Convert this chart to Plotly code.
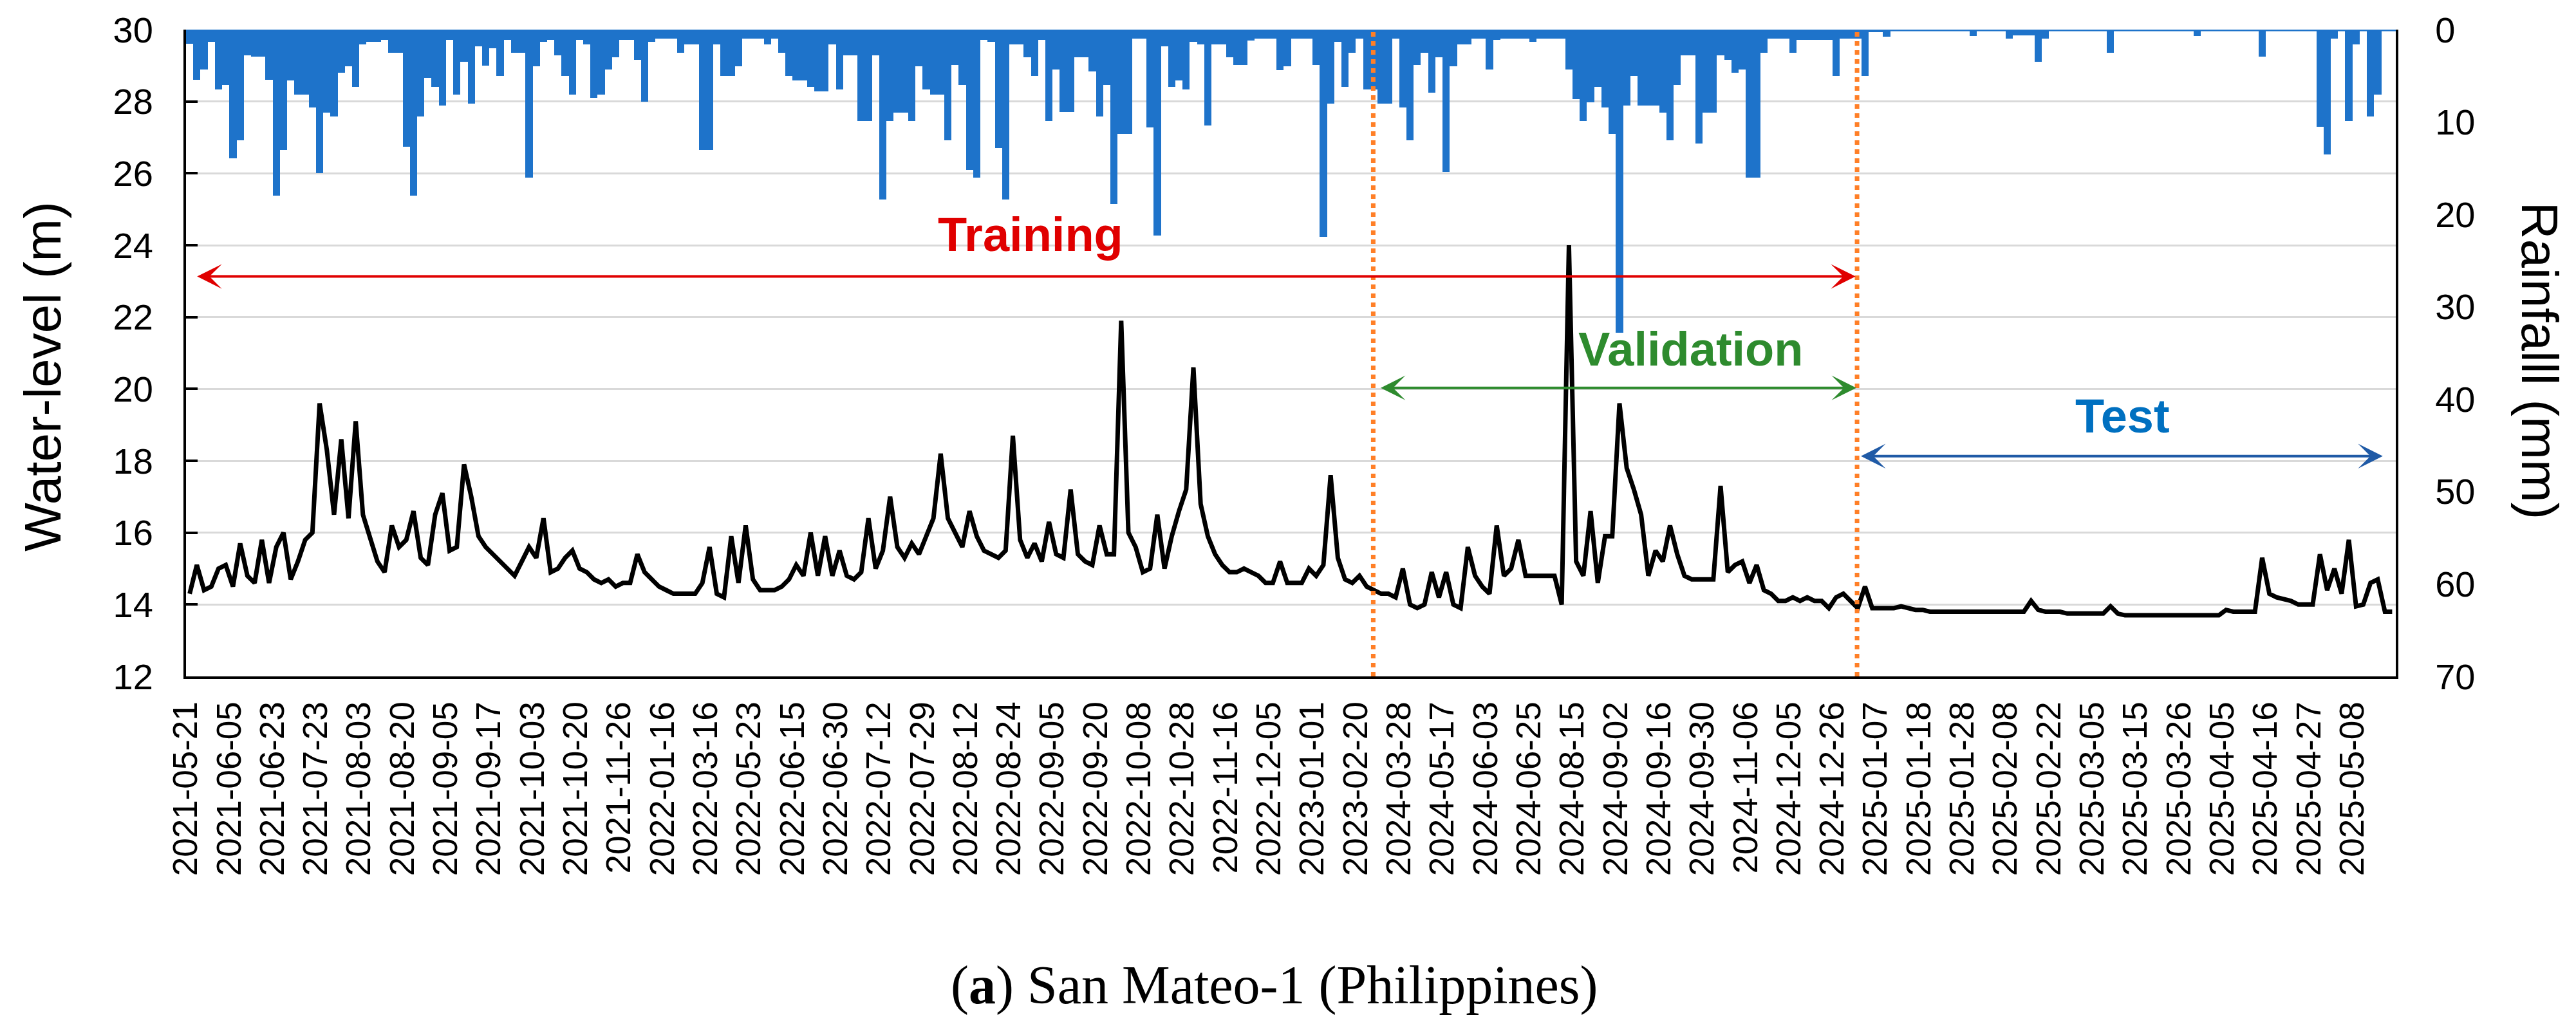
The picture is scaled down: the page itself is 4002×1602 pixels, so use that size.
import plotly.graph_objects as go

# ---------------- data ----------------
tick_labels = [
    "2021-05-21", "2021-06-05", "2021-06-23", "2021-07-23", "2021-08-03", "2021-08-20",
    "2021-09-05", "2021-09-17", "2021-10-03", "2021-10-20", "2021-11-26", "2022-01-16",
    "2022-03-16", "2022-05-23", "2022-06-15", "2022-06-30", "2022-07-12", "2022-07-29",
    "2022-08-12", "2022-08-24", "2022-09-05", "2022-09-20", "2022-10-08", "2022-10-28",
    "2022-11-16", "2022-12-05", "2023-01-01", "2023-02-20", "2024-03-28", "2024-05-17",
    "2024-06-03", "2024-06-25", "2024-08-15", "2024-09-02", "2024-09-16", "2024-09-30",
    "2024-11-06", "2024-12-05", "2024-12-26", "2025-01-07", "2025-01-18", "2025-01-28",
    "2025-02-08", "2025-02-22", "2025-03-05", "2025-03-15", "2025-03-26", "2025-04-05",
    "2025-04-16", "2025-04-27", "2025-05-08",
]

# water level (m), 6 readings between consecutive tick labels
water_level = [
    14.3, 15.1, 14.4, 14.5, 15.0, 15.1,
    14.5, 15.7, 14.8, 14.6, 15.8, 14.6,
    15.6, 16.0, 14.7, 15.2, 15.8, 16.0,
    19.6, 18.3, 16.5, 18.6, 16.4, 19.1,
    16.5, 15.8, 15.2, 14.9, 16.2, 15.6,
    15.8, 16.6, 15.3, 15.1, 16.5, 17.1,
    15.5, 15.6, 17.9, 17.0, 15.9, 15.6,
    15.4, 15.2, 15.0, 14.8, 15.2, 15.6,
    15.3, 16.4, 14.9, 15.0, 15.3, 15.5,
    15.0, 14.9, 14.7, 14.6, 14.7, 14.5,
    14.6, 14.6, 15.4, 14.9, 14.7, 14.5,
    14.4, 14.3, 14.3, 14.3, 14.3, 14.6,
    15.6, 14.3, 14.2, 15.9, 14.6, 16.2,
    14.7, 14.4, 14.4, 14.4, 14.5, 14.7,
    15.1, 14.8, 16.0, 14.8, 15.9, 14.8,
    15.5, 14.8, 14.7, 14.9, 16.4, 15.0,
    15.5, 17.0, 15.6, 15.3, 15.7, 15.4,
    15.9, 16.4, 18.2, 16.4, 16.0, 15.6,
    16.6, 15.9, 15.5, 15.4, 15.3, 15.5,
    18.7, 15.8, 15.3, 15.7, 15.2, 16.3,
    15.4, 15.3, 17.2, 15.4, 15.2, 15.1,
    16.2, 15.4, 15.4, 21.9, 16.0, 15.6,
    14.9, 15.0, 16.5, 15.0, 15.9, 16.6,
    17.2, 20.6, 16.8, 15.9, 15.4, 15.1,
    14.9, 14.9, 15.0, 14.9, 14.8, 14.6,
    14.6, 15.2, 14.6, 14.6, 14.6, 15.0,
    14.8, 15.1, 17.6, 15.3, 14.7, 14.6,
    14.8, 14.5, 14.4, 14.3, 14.3, 14.2,
    15.0, 14.0, 13.9, 14.0, 14.9, 14.2,
    14.9, 14.0, 13.9, 15.6, 14.8, 14.5,
    14.3, 16.2, 14.8, 15.0, 15.8, 14.8,
    14.8, 14.8, 14.8, 14.8, 14.0, 24.0,
    15.2, 14.8, 16.6, 14.6, 15.9, 15.9,
    19.6, 17.8, 17.2, 16.5, 14.8, 15.5,
    15.2, 16.2, 15.4, 14.8, 14.7, 14.7,
    14.7, 14.7, 17.3, 14.9, 15.1, 15.2,
    14.6, 15.1, 14.4, 14.3, 14.1, 14.1,
    14.2, 14.1, 14.2, 14.1, 14.1, 13.9,
    14.2, 14.3, 14.1, 13.9, 14.5, 13.9,
    13.9, 13.9, 13.9, 13.95, 13.9, 13.85,
    13.85, 13.8, 13.8, 13.8, 13.8, 13.8,
    13.8, 13.8, 13.8, 13.8, 13.8, 13.8,
    13.8, 13.8, 13.8, 14.1, 13.85, 13.8,
    13.8, 13.8, 13.75, 13.75, 13.75, 13.75,
    13.75, 13.75, 13.95, 13.75, 13.7, 13.7,
    13.7, 13.72, 13.7, 13.7, 13.72, 13.7,
    13.7, 13.7, 13.72, 13.7, 13.7, 13.7,
    13.85, 13.8, 13.8, 13.8, 13.8, 15.3,
    14.3, 14.2, 14.15, 14.1, 14.0, 14.0,
    14.0, 15.4, 14.4, 15.0, 14.3, 15.8,
    13.95, 14.0, 14.6, 14.7, 13.8, 13.8,
]

# rainfall (mm), same sampling
rainfall = [
    1.5, 5.4, 4.3, 1.3, 6.5, 6.0,
    13.9, 12.0, 2.8, 2.9, 2.9, 5.4,
    18.0, 13.0, 5.5, 7.0, 7.0, 8.4,
    15.5, 9.0, 9.4, 4.7, 4.0, 6.2,
    1.6, 1.3, 1.3, 1.1, 2.5, 2.5,
    12.7, 18.0, 9.4, 5.2, 6.2, 8.2,
    1.1, 7.0, 3.5, 8.0, 1.8, 3.9,
    2.0, 5.0, 1.1, 2.5, 2.5, 16.0,
    4.0, 1.3, 1.1, 2.8, 5.0, 7.0,
    1.1, 1.6, 7.4, 7.0, 4.3, 3.0,
    1.1, 1.1, 3.3, 7.8, 1.3, 1.0,
    1.0, 1.0, 2.5, 1.6, 1.6, 13.0,
    13.0, 1.6, 5.0, 5.0, 4.0, 1.0,
    1.0, 1.0, 1.6, 1.0, 2.5, 5.0,
    5.5, 5.5, 6.2, 6.7, 6.7, 1.6,
    6.5, 2.8, 2.8, 9.9, 9.9, 2.8,
    18.4, 9.9, 9.0, 9.0, 9.9, 4.0,
    6.5, 7.0, 7.0, 12.0, 3.8, 6.0,
    15.2, 16.0, 1.1, 1.3, 12.8, 18.4,
    1.6, 1.6, 3.0, 5.0, 1.1, 9.9,
    4.3, 8.9, 8.9, 3.0, 3.0, 4.5,
    9.4, 6.0, 18.9, 11.3, 11.3, 1.0,
    1.0, 10.6, 22.3, 1.8, 6.2, 5.5,
    6.5, 1.3, 1.6, 10.4, 1.6, 1.6,
    3.0, 3.8, 3.8, 1.2, 1.0, 1.0,
    1.0, 4.4, 4.0, 1.0, 1.0, 1.0,
    3.8, 22.4, 8.0, 1.3, 6.2, 2.5,
    1.0, 6.5, 6.5, 8.0, 8.0, 1.0,
    8.4, 12.0, 3.8, 2.5, 6.8, 3.0,
    15.4, 4.0, 1.6, 1.6, 1.0, 1.0,
    4.3, 1.1, 1.0, 1.0, 1.0, 1.0,
    1.3, 1.0, 1.0, 1.0, 1.0, 4.3,
    7.5, 9.9, 7.9, 6.2, 8.4, 11.3,
    32.8, 8.2, 5.0, 8.2, 8.2, 8.2,
    9.0, 12.0, 6.0, 2.8, 2.8, 12.3,
    9.0, 9.0, 2.8, 3.3, 4.7, 4.3,
    16.0, 16.0, 2.5, 1.0, 1.0, 1.0,
    2.5, 1.1, 1.1, 1.1, 1.1, 1.1,
    5.0, 1.0, 1.0, 1.0, 5.0, 0.3,
    0.3, 0.8, 0.0, 0.0, 0.0, 0.0,
    0.0, 0.0, 0.0, 0.0, 0.0, 0.0,
    0.0, 0.7, 0.0, 0.0, 0.0, 0.0,
    1.0, 0.6, 0.6, 0.6, 3.5, 1.0,
    0.0, 0.0, 0.0, 0.0, 0.0, 0.0,
    0.0, 0.0, 2.5, 0.0, 0.0, 0.0,
    0.0, 0.0, 0.0, 0.0, 0.0, 0.0,
    0.0, 0.0, 0.7, 0.0, 0.0, 0.0,
    0.0, 0.0, 0.0, 0.0, 0.0, 2.9,
    0.0, 0.0, 0.0, 0.0, 0.0, 0.0,
    0.0, 10.5, 13.5, 1.0, 0.0, 9.9,
    1.6, 0.0, 9.4, 7.0, 0.0, 0.0,
]

period_names = ["Training", "Validation", "Test"]

# ---------------- geometry (in sample-index units) ----------------
STEP = 6                       # samples per tick label
N = len(water_level)
xs = [i + 0.5 for i in range(N)]
tickvals = [STEP * i for i in range(len(tick_labels))]
X_MAX = STEP * len(tick_labels)
VALID_START = 164.4
TEST_START = 231.4

BLUE = "#1E73CA"
RED = "#E00000"
GREEN = "#2E8B2E"
TEST_TXT = "#0070C0"
TEST_ARROW = "#1F5AA6"
ORANGE = "#FF7F27"
SANS = "Liberation Sans, Arial, sans-serif"

fig = go.Figure()
fig.add_trace(go.Bar(x=xs, y=rainfall, yaxis="y2", width=1.0,
                     marker=dict(color=BLUE, line=dict(width=0)),
                     hoverinfo="skip"))
fig.add_trace(go.Scatter(x=xs, y=water_level, yaxis="y", mode="lines",
                         line=dict(color="black", width=7)))

fig.update_layout(
    width=4002, height=1602,
    margin=dict(l=289, r=280, t=46, b=551, pad=0),
    paper_bgcolor="white", plot_bgcolor="white",
    showlegend=False, bargap=0,
    font=dict(family=SANS, color="black"),
    xaxis=dict(range=[0, X_MAX], tickmode="array", tickvals=tickvals,
               ticktext=tick_labels, tickangle=-90,
               tickfont=dict(size=53, family=SANS, color="black"),
               showgrid=False, zeroline=False, showline=True,
               linecolor="black", linewidth=4, ticks="",
               ticklabelstandoff=14),
    yaxis=dict(range=[12, 30], tick0=12, dtick=2, showgrid=True,
               gridcolor="#D9D9D9", gridwidth=3, zeroline=False,
               showline=True, linecolor="black", linewidth=4,
               ticks="inside", ticklen=18, tickwidth=4, tickcolor="black",
               tickfont=dict(size=56, family=SANS, color="black"),
               ticklabelstandoff=36),
    yaxis2=dict(range=[70, 0], tick0=0, dtick=10, overlaying="y",
                side="right", showgrid=False, zeroline=False,
                showline=True, linecolor="black", linewidth=4, ticks="",
                tickfont=dict(size=56, family=SANS, color="black"),
                ticklabelstandoff=46),
)

# top edge
fig.add_shape(type="line", xref="paper", yref="y", x0=0, x1=1, y0=30, y1=30,
              line=dict(color=BLUE, width=5), layer="above")

# split lines
for xv in (VALID_START, TEST_START):
    fig.add_shape(type="line", xref="x", yref="y", x0=xv, x1=xv, y0=12, y1=30,
                  line=dict(color=ORANGE, width=7, dash="dot"), layer="above")


def span_arrow(x0, x1, y, color):
    fig.add_annotation(x=x1, y=y, ax=x0, ay=y, xref="x", yref="y",
                       axref="x", ayref="y", text="", showarrow=True,
                       arrowside="end+start", arrowhead=3, startarrowhead=3,
                       arrowsize=1.6, startarrowsize=1.6, arrowwidth=4,
                       arrowcolor=color)


span_arrow(1.4, TEST_START - 0.2, 23.13, RED)
span_arrow(VALID_START + 0.9, TEST_START - 0.1, 20.03, GREEN)
span_arrow(TEST_START + 0.4, 304.2, 18.13, TEST_ARROW)

label_specs = [
    (period_names[0], 116.9, 24.29, RED),
    (period_names[1], 208.4, 21.10, GREEN),
    (period_names[2], 268.2, 19.25, TEST_TXT),
]
for txt, xv, yv, col in label_specs:
    fig.add_annotation(x=xv, y=yv, xref="x", yref="y", text="<b>%s</b>" % txt,
                       showarrow=False, xanchor="center", yanchor="middle",
                       font=dict(family=SANS, size=74, color=col))

# axis titles
fig.add_annotation(x=-0.0647, y=0.4637, xref="paper", yref="paper",
                   text="Water-level (m)", textangle=-90, showarrow=False,
                   xanchor="center", yanchor="middle",
                   font=dict(family=SANS, size=80, color="black"))
fig.add_annotation(x=1.065, y=0.4886, xref="paper", yref="paper",
                   text="Rainfalll (mm)", textangle=90, showarrow=False,
                   xanchor="center", yanchor="middle",
                   font=dict(family=SANS, size=80, color="black"))

# caption
fig.add_annotation(x=0.4926, y=-0.478, xref="paper", yref="paper",
                   text="(<b>a</b>) San Mateo-1 (Philippines)", showarrow=False,
                   xanchor="center", yanchor="middle",
                   font=dict(family="Liberation Serif, Times New Roman, serif",
                             size=84, color="black"))

fig.write_html("out.html",
               config={"displayModeBar": False},
               post_script="document.body.style.margin='0';document.body.style.overflow='hidden';")
